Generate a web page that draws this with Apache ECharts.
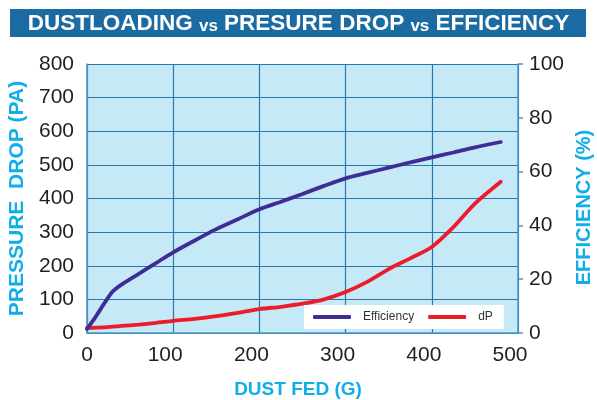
<!DOCTYPE html>
<html>
<head>
<meta charset="utf-8">
<script src="https://cdn.jsdelivr.net/npm/echarts@6/dist/echarts.min.js"></script>
<style>
html,body{margin:0;padding:0;background:#fff;}
#c{width:597px;height:400px;}
</style>
</head>
<body>
<div id="c"></div>
<script>
const titleParts = ['DUSTLOADING', 'vs', 'PRESURE DROP', 'vs', 'EFFICIENCY'];
const xAxisName = 'DUST FED (G)';
const leftAxisName = 'PRESSURE  DROP (PA)';
const rightAxisName = 'EFFICIENCY (%)';
const seriesNames = ['Efficiency', 'dP'];

const dustFed = [0, 10, 20, 30, 40, 60, 80, 100, 125, 150, 175, 200, 225, 250, 275, 300, 325, 350, 375, 400, 425, 450, 480];
const efficiency = [1.5, 6, 11, 15.5, 18, 22, 26, 30, 34.4, 38.6, 42.3, 46, 48.8, 51.7, 54.7, 57.5, 59.5, 61.5, 63.4, 65.3, 67.1, 69, 71];
const pressureDrop = [15, 16, 17, 19, 21, 25, 30, 36, 42, 50, 60, 71, 78, 87, 100, 122, 152, 190, 222, 256, 315, 385, 450];

const xTicks = [0, 100, 200, 300, 400, 500];
const leftTicks = [0, 100, 200, 300, 400, 500, 600, 700, 800];
const rightTicks = [0, 20, 40, 60, 80, 100];

const FONT = '"Liberation Sans", Arial, Helvetica, sans-serif';
const CYAN = '#10aee8';
const GRIDC = '#2a77a9';
const AXISC = '#4f95c3';
const LABC = '#231f20';

const chart = echarts.init(document.getElementById('c'), null, {renderer: 'canvas'});

const titleText = titleParts.map(function (t) {
  return (t === 'vs' ? '{b|' : '{a|') + t + '}';
}).join('{a| }');

const option = {
  backgroundColor: '#ffffff',
  animation: false,
  graphic: [
    {type: 'rect', shape: {x: 10, y: 9, width: 576, height: 28}, style: {fill: '#1b6ba2'}, z: 0}
  ],
  title: {
    text: titleText,
    left: 'center',
    top: 11,
    padding: 0,
    textStyle: {
      rich: {
        a: {fontFamily: FONT, fontWeight: 'bold', fontSize: 22.5, color: '#ffffff', lineHeight: 24, verticalAlign: 'bottom'},
        b: {fontFamily: FONT, fontWeight: 'bold', fontSize: 17, color: '#ffffff', lineHeight: 19, verticalAlign: 'bottom'}
      }
    }
  },
  legend: {
    data: seriesNames,
    left: 304,
    top: 305,
    orient: 'horizontal',
    backgroundColor: '#ffffff',
    borderWidth: 0,
    padding: [6, 11, 6, 9],
    itemGap: 14,
    itemWidth: 38,
    itemHeight: 4,
    icon: 'roundRect',
    textStyle: {fontFamily: FONT, fontSize: 12, color: '#333333', padding: [0, 0, 0, 7]}
  },
  grid: {
    left: 87, right: 79, top: 64, bottom: 67,
    show: true,
    backgroundColor: '#c6e9f8',
    borderWidth: 0,
    containLabel: false,
    outerBoundsMode: 'none'
  },
  xAxis: {
    type: 'value',
    min: xTicks[0],
    max: xTicks[xTicks.length - 1],
    interval: xTicks[1] - xTicks[0],
    name: xAxisName,
    nameLocation: 'middle',
    nameGap: 47,
    nameTextStyle: {fontFamily: FONT, fontWeight: 'bold', fontSize: 19, color: CYAN, padding: [0, 9, 0, 0]},
    axisLine: {show: true, lineStyle: {color: AXISC, width: 1.5}},
    axisTick: {show: false},
    splitLine: {show: true, lineStyle: {color: GRIDC, width: 1.2}},
    axisLabel: {
      margin: 12,
      fontFamily: FONT, fontSize: 21, color: LABC,
      formatter: function (v) { return v === 0 ? '{z|0}' : '{s|' + v + '}'; },
      rich: {
        z: {fontFamily: FONT, fontSize: 21, color: LABC},
        s: {fontFamily: FONT, fontSize: 21, color: LABC, padding: [0, 16, 0, 0]}
      }
    }
  },
  yAxis: [
    {
      type: 'value',
      position: 'left',
      min: leftTicks[0],
      max: leftTicks[leftTicks.length - 1],
      interval: leftTicks[1] - leftTicks[0],
      name: leftAxisName,
      nameLocation: 'middle',
      nameRotate: 90,
      nameGap: 52,
      nameTextStyle: {fontFamily: FONT, fontWeight: 'bold', fontSize: 21, color: CYAN},
      axisLine: {show: true, lineStyle: {color: AXISC, width: 1.5}},
      axisTick: {show: false},
      splitLine: {show: true, lineStyle: {color: GRIDC, width: 1.2}},
      axisLabel: {margin: 13, fontFamily: FONT, fontSize: 21, color: LABC, padding: [0, 0, 7, 0]}
    },
    {
      type: 'value',
      position: 'right',
      min: rightTicks[0],
      max: rightTicks[rightTicks.length - 1],
      interval: rightTicks[1] - rightTicks[0],
      name: rightAxisName,
      nameLocation: 'middle',
      nameRotate: 90,
      nameGap: 54,
      nameTextStyle: {fontFamily: FONT, fontWeight: 'bold', fontSize: 20, color: CYAN, padding: [0, 18, 0, 0]},
      axisLine: {show: true, lineStyle: {color: AXISC, width: 1.5}},
      axisTick: {show: true, inside: false, length: 5, lineStyle: {color: AXISC, width: 1.5}},
      splitLine: {show: false},
      axisLabel: {margin: 11, fontFamily: FONT, fontSize: 21, color: LABC, padding: [0, 0, 7, 0]}
    }
  ],
  series: [
    {
      name: seriesNames[0],
      type: 'line',
      yAxisIndex: 1,
      data: dustFed.map(function (x, i) { return [x, efficiency[i]]; }),
      symbol: 'none',
      smooth: 0.25,
      z: 4,
      color: '#3f2d96',
      lineStyle: {color: '#3f2d96', width: 3.8, cap: 'round'}
    },
    {
      name: seriesNames[1],
      type: 'line',
      yAxisIndex: 0,
      data: dustFed.map(function (x, i) { return [x, pressureDrop[i]]; }),
      symbol: 'none',
      smooth: 0.25,
      z: 3,
      color: '#ec1c2a',
      lineStyle: {color: '#ec1c2a', width: 3.8, cap: 'round'}
    }
  ]
};
chart.setOption(option);
</script>
</body>
</html>
